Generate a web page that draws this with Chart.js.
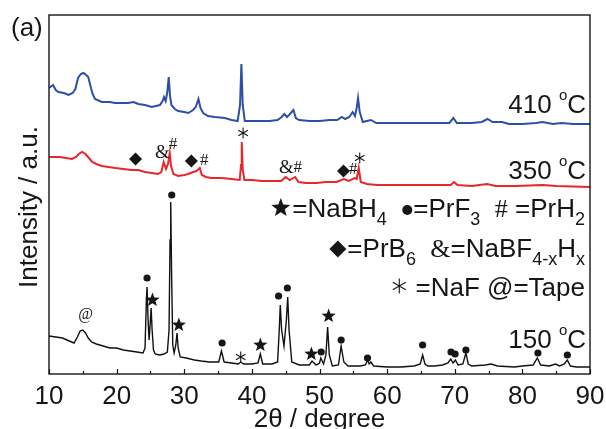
<!DOCTYPE html>
<html>
<head>
<meta charset="utf-8">
<script src="https://cdn.jsdelivr.net/npm/chart.js@4.4.1/dist/chart.umd.min.js"></script>
<style>
    html, body { margin: 0; padding: 0; background: #fff; }
</style>
</head>
<body>
<canvas id="xrdChart" width="606" height="429"></canvas>
<script>
// XRD patterns, 2theta in degree, intensity in a.u. (offset stacked)
const angles150 = [10.0, 11.0, 12.0, 13.0, 13.7, 14.2, 14.6, 15.0, 15.4, 15.8, 16.3, 17.0, 18.0, 19.0, 20.0, 21.0, 22.0, 23.0, 23.9, 24.2,
    24.4, 24.5, 24.65, 24.8, 24.95, 25.1, 25.25, 25.45, 25.7, 26.4, 27.0, 27.5, 27.75, 27.9, 28.0, 28.12, 28.3, 28.5, 28.75, 28.93,
    29.1, 29.4, 30.3, 31.5, 32.5, 33.7, 35.1, 35.5, 35.9, 37.0, 38.0, 38.35, 38.8, 40.0, 40.9, 41.25, 41.6, 43.0, 43.8, 44.05,
    44.2, 44.4, 44.75, 45.1, 45.3, 45.5, 45.9, 47.0, 48.5, 48.9, 49.5, 50.0, 50.2, 50.6, 50.95, 51.2, 51.45, 51.9, 52.8, 53.2,
    53.6, 54.2, 56.0, 56.8, 57.1, 57.35, 57.6, 58.0, 60.0, 62.0, 64.0, 64.9, 65.25, 65.6, 66.0, 67.0, 68.2, 69.0, 69.4, 69.75,
    70.1, 70.5, 71.2, 71.65, 72.0, 72.5, 74.5, 75.4, 76.3, 78.8, 80.0, 81.6, 82.2, 82.7, 84.0, 84.9, 85.5, 86.2, 86.65, 87.1,
    88.0, 90.0];
const counts150 = [38, 37, 36, 33, 31, 37, 43, 44, 41, 36, 32, 30, 28, 26, 26, 24, 23, 22, 21, 26,
    74, 87, 54, 34, 49, 66, 44, 24, 20, 19, 20, 22, 44, 134, 172, 104, 29, 21, 29, 41,
    26, 17, 16, 14, 13, 12, 12, 23, 12, 11, 10, 12, 10, 10, 11, 20, 10, 10, 12, 44,
    69, 44, 28, 54, 77, 44, 12, 9, 9, 13, 9, 11, 16, 10, 19, 47, 19, 8, 9, 28,
    12, 8, 8, 9, 14, 10, 12, 8, 7, 7, 8, 10, 19, 10, 8, 8, 9, 11, 15, 11,
    14, 9, 10, 21, 10, 8, 9, 10, 8, 7, 8, 9, 16, 9, 8, 10, 8, 10, 14, 8,
    7, 7];

const angles350 = [10.0, 10.8, 11.6, 12.5, 13.4, 14.0, 14.4, 14.9, 15.4, 15.9, 16.4, 17.0, 17.8, 18.8, 19.8, 21.0, 22.2, 23.2, 24.2, 25.2,
    26.1, 26.6, 26.95, 27.3, 27.6, 27.85, 28.05, 28.4, 29.1, 30.0, 30.6, 31.3, 31.8, 32.3, 32.6, 33.2, 34.0, 35.5, 37.0, 38.2,
    38.4, 38.5, 38.65, 38.9, 40.0, 41.5, 43.0, 44.3, 45.0, 45.6, 46.4, 46.9, 48.0, 49.5, 51.0, 52.5, 53.6, 54.3, 55.2, 55.5,
    55.8, 56.1, 57.0, 58.5, 61.0, 63.5, 66.0, 69.4, 69.9, 70.4, 72.5, 74.8, 76.0, 79.0, 83.0, 85.0, 90.0];
const counts350 = [217, 217, 217, 216, 215, 217, 220, 222, 220, 216, 212, 210, 208, 207, 206, 205, 204, 204, 202, 201,
    200, 202, 212, 205, 210, 221, 208, 200, 198, 199, 200, 202, 203, 206, 199, 197, 196, 196, 195, 194,
    209, 232, 204, 194, 194, 193, 193, 193, 197, 194, 197, 192, 191, 191, 192, 192, 195, 193, 196, 195,
    206, 192, 190, 189, 189, 189, 189, 189, 192, 189, 188, 190, 188, 188, 189, 188, 187];

const angles410 = [10.0, 10.6, 11.0, 11.4, 12.2, 12.9, 13.5, 13.9, 14.3, 14.7, 15.1, 15.5, 15.8, 16.1, 16.4, 16.8, 17.8, 19.0, 19.75, 21.7,
    22.5, 23.2, 24.2, 25.2, 26.4, 26.8, 27.0, 27.25, 27.5, 27.7, 27.9, 28.1, 28.6, 29.1, 30.0, 30.6, 31.3, 31.7, 32.1, 32.4,
    32.8, 33.5, 34.5, 36.0, 37.0, 37.9, 38.25, 38.45, 38.65, 38.95, 40.0, 41.5, 42.6, 43.8, 44.4, 44.8, 45.2, 45.5, 46.15, 46.5,
    47.0, 48.5, 50.0, 51.5, 52.6, 53.3, 53.8, 54.4, 54.9, 55.25, 55.5, 55.7, 55.95, 56.4, 57.0, 57.6, 58.4, 60.0, 62.3, 65.0,
    67.5, 69.2, 69.8, 70.3, 72.5, 74.0, 74.85, 75.6, 77.0, 78.0, 80.0, 82.0, 83.0, 84.5, 85.8, 87.5, 90.0];
const counts410 = [286, 289, 284, 282, 281, 279, 281, 285, 296, 300, 301, 299, 297, 289, 281, 275, 272, 272, 271, 271,
    272, 270, 269, 267, 269, 273, 277, 273, 282, 297, 278, 269, 265, 263, 262, 261, 264, 267, 275, 266,
    261, 258, 257, 256, 254, 253, 269, 310, 269, 253, 253, 253, 253, 254, 257, 260, 257, 259, 264, 256,
    254, 253, 253, 254, 254, 257, 255, 257, 262, 258, 266, 276, 262, 252, 253, 254, 251, 251, 251, 251,
    251, 251, 256, 251, 251, 252, 255, 252, 252, 250, 250, 251, 252, 250, 251, 250, 250];

const majorTicks = [10, 20, 30, 40, 50, 60, 70, 80, 90];
const minorTicks = [15, 25, 35, 45, 55, 65, 75, 85];

// phase markers: [symbol, 2theta, intensity]
const marks150 = [['at', 15.4, 59], ['dot', 24.5, 96], ['star', 25.3, 74], ['dot', 28.15, 179], ['star', 29.2, 49],
    ['dot', 35.6, 31], ['ast', 38.35, 17], ['star', 41.25, 29], ['dot', 43.95, 78], ['dot', 45.25, 86],
    ['star', 48.8, 20], ['dot', 50.25, 22], ['star', 51.35, 58], ['dot', 53.2, 34], ['dot', 57.1, 16],
    ['dot', 65.25, 29], ['dot', 69.45, 22], ['dot', 70.05, 20], ['dot', 71.65, 24], ['dot', 82.3, 21], ['dot', 86.65, 19]];
const marks350 = [['diamond', 22.8, 215], ['amp', 26.75, 221], ['hash', 28.35, 229], ['diamond', 31.05, 213], ['hash', 32.95, 213],
    ['ast', 38.7, 241], ['amp', 45.1, 206], ['hash', 46.8, 206], ['diamond', 53.55, 203], ['hash', 55.0, 204], ['ast', 55.95, 216]];

// temperature labels: [text, intensity of baseline]
const tempLabels = [['410 ', 261], ['350 ', 195], ['150 ', 26]];

const SANS = '"Liberation Sans", Arial, Helvetica, sans-serif';
const SERIF = '"Liberation Serif", "Times New Roman", serif';
const INK = '#161616';

function toPoints(xs, ys) {
    return xs.map((x, i) => ({ x: x, y: ys[i] }));
}

function drawStar(ctx, cx, cy, r) {
    ctx.beginPath();
    for (let i = 0; i < 10; i++) {
        const rr = i % 2 ? r * 0.42 : r;
        const a = -Math.PI / 2 + i * Math.PI / 5;
        ctx.lineTo(cx + rr * Math.cos(a), cy + rr * Math.sin(a));
    }
    ctx.closePath();
    ctx.fill();
}

function drawDot(ctx, cx, cy, r) {
    ctx.beginPath();
    ctx.arc(cx, cy, r, 0, Math.PI * 2);
    ctx.fill();
}

function drawDiamond(ctx, cx, cy, r) {
    ctx.beginPath();
    ctx.moveTo(cx, cy - r);
    ctx.lineTo(cx + r, cy);
    ctx.lineTo(cx, cy + r);
    ctx.lineTo(cx - r, cy);
    ctx.closePath();
    ctx.fill();
}

function drawAsterisk(ctx, cx, cy, r) {
    ctx.save();
    ctx.lineWidth = 1.1;
    ctx.beginPath();
    for (let i = 0; i < 3; i++) {
        const a = Math.PI / 2 + i * Math.PI / 3;
        ctx.moveTo(cx - r * Math.cos(a), cy - r * Math.sin(a));
        ctx.lineTo(cx + r * Math.cos(a), cy + r * Math.sin(a));
    }
    ctx.stroke();
    ctx.restore();
}

function drawMark(ctx, kind, cx, cy) {
    ctx.textAlign = 'center';
    ctx.textBaseline = 'middle';
    if (kind === 'star') drawStar(ctx, cx, cy, 7.5);
    else if (kind === 'dot') drawDot(ctx, cx, cy, 3.6);
    else if (kind === 'diamond') drawDiamond(ctx, cx, cy, 6.5);
    else if (kind === 'ast') drawAsterisk(ctx, cx, cy, 5.5);
    else if (kind === 'amp') { ctx.font = '19px ' + SERIF; ctx.fillText('&', cx, cy); }
    else if (kind === 'hash') { ctx.font = '17px ' + SERIF; ctx.fillText('#', cx, cy); }
    else if (kind === 'at') { ctx.font = '16px ' + SERIF; ctx.fillText('@', cx, cy); }
}

// one line of mixed text / symbols, right aligned
function drawRich(ctx, parts, right, base) {
    ctx.textAlign = 'left';
    ctx.textBaseline = 'alphabetic';
    parts.forEach(p => {
        if (p.shape) { p.w = p.width; return; }
        p.size = p.sub ? 18 : p.sup ? 15 : 26;
        p.font = p.size + 'px ' + (p.serif ? SERIF : SANS);
        ctx.font = p.font;
        p.w = ctx.measureText(p.text).width;
    });
    const total = parts.reduce((s, p) => s + p.w, 0);
    let x = right - total;
    parts.forEach(p => {
        if (p.shape === 'star') drawStar(ctx, x + p.w / 2, base - 9, 10);
        else if (p.shape === 'dot') drawDot(ctx, x + p.w / 2, base - 7, 5);
        else if (p.shape === 'diamond') drawDiamond(ctx, x + p.w / 2, base - 8, 8.5);
        else if (p.shape === 'ast') drawAsterisk(ctx, x + p.w / 2, base - 10, 7.5);
        else {
            ctx.font = p.font;
            const dy = p.sub ? 8 : p.sup ? -13 : 0;
            ctx.fillText(p.text, x, base + dy);
        }
        x += p.w;
    });
}

const legendLines = [
    [[{ shape: 'star', width: 23 }, { text: '=NaBH' }, { text: '4', sub: true }, { text: '  ' }, { shape: 'dot', width: 12 },
        { text: '=PrF' }, { text: '3', sub: true }, { text: '  ' }, { text: '#', serif: true }, { text: ' =PrH' }, { text: '2', sub: true }], 217],
    [[{ shape: 'diamond', width: 19 }, { text: '=PrB' }, { text: '6', sub: true }, { text: '  ' }, { text: '&', serif: true },
        { text: '=NaBF' }, { text: '4-x', sub: true }, { text: 'H' }, { text: 'x', sub: true }], 257],
    [[{ shape: 'ast', width: 18 }, { text: ' =NaF ' }, { text: '@=Tape' }], 296]
];

const xrdDecor = {
    id: 'xrdDecor',
    afterDraw(chart) {
        const ctx = chart.ctx;
        const area = chart.chartArea;
        const xs = chart.scales.x;
        const ys = chart.scales.y;
        ctx.save();
        ctx.fillStyle = INK;
        ctx.strokeStyle = INK;

        // frame
        ctx.lineWidth = 1.4;
        ctx.strokeRect(area.left, area.top, area.right - area.left, area.bottom - area.top);

        // inward ticks on the bottom axis
        ctx.lineWidth = 1.2;
        ctx.beginPath();
        majorTicks.forEach(v => {
            const px = Math.round(xs.getPixelForValue(v)) + 0.5;
            ctx.moveTo(px, area.bottom);
            ctx.lineTo(px, area.bottom - 5);
        });
        minorTicks.forEach(v => {
            const px = Math.round(xs.getPixelForValue(v)) + 0.5;
            ctx.moveTo(px, area.bottom);
            ctx.lineTo(px, area.bottom - 3);
        });
        ctx.stroke();

        // tick labels and axis titles
        ctx.font = '26px ' + SANS;
        ctx.textAlign = 'center';
        ctx.textBaseline = 'alphabetic';
        majorTicks.forEach(v => ctx.fillText(String(v), xs.getPixelForValue(v), area.bottom + 30));
        ctx.fillText('2\u03b8 / degree', (area.left + area.right) / 2, area.bottom + 53);

        ctx.save();
        ctx.translate(37, 207);
        ctx.rotate(-Math.PI / 2);
        ctx.fillText('Intensity / a.u.', 0, 0);
        ctx.restore();

        ctx.textAlign = 'left';
        ctx.fillText('(a)', 11, 36);

        // temperature labels
        tempLabels.forEach(([t, v]) => {
            drawRich(ctx, [{ text: t }, { text: 'o', sup: true }, { text: 'C' }], area.right - 4, ys.getPixelForValue(v));
        });

        // phase legend
        legendLines.forEach(([parts, base]) => drawRich(ctx, parts, area.right - 5, base));

        // phase markers above the peaks
        marks150.concat(marks350).forEach(([kind, x, y]) => {
            drawMark(ctx, kind, xs.getPixelForValue(x), ys.getPixelForValue(y));
        });
        ctx.restore();
    }
};

const ctx = document.getElementById('xrdChart').getContext('2d');
new Chart(ctx, {
    type: 'line',
    data: {
        datasets: [
            {
                label: '410 °C',
                data: toPoints(angles410, counts410),
                borderColor: '#2d4fa6',
                borderWidth: 2,
                pointRadius: 0,
                tension: 0
            },
            {
                label: '350 °C',
                data: toPoints(angles350, counts350),
                borderColor: '#e8262b',
                borderWidth: 2,
                pointRadius: 0,
                tension: 0
            },
            {
                label: '150 °C',
                data: toPoints(angles150, counts150),
                borderColor: '#111111',
                borderWidth: 1.4,
                pointRadius: 0,
                tension: 0
            }
        ]
    },
    options: {
        responsive: false,
        animation: false,
        layout: {
            padding: { left: 49, right: 16, top: 15, bottom: 55 }
        },
        plugins: {
            legend: { display: false },
            tooltip: { enabled: false }
        },
        scales: {
            x: { type: 'linear', min: 10, max: 90, display: false },
            y: { min: 0, max: 359, display: false }
        }
    },
    plugins: [xrdDecor]
});
</script>
</body>
</html>
